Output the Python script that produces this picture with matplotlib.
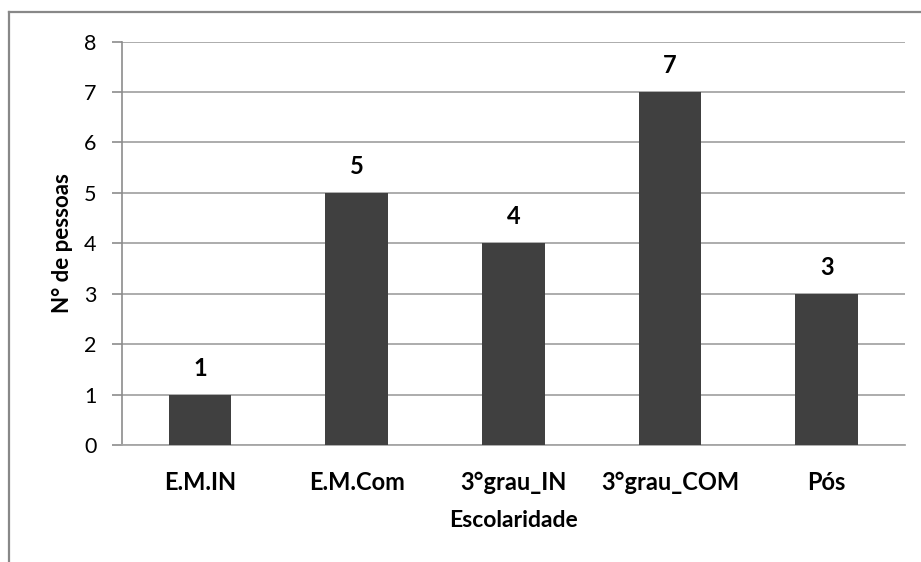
import matplotlib
matplotlib.use("Agg")
import matplotlib.pyplot as plt
from matplotlib.lines import Line2D

categories = ["E.M.IN", "E.M.Com", "3°grau_IN", "3°grau_COM", "Pós"]
values = [1, 5, 4, 7, 3]
y_ticks = [0, 1, 2, 3, 4, 5, 6, 7, 8]

plt.rcParams["font.family"] = ["Lato", "DejaVu Sans"]

W, H = 921, 562
fig = plt.figure(figsize=(W / 100, H / 100), dpi=100)
ax = fig.add_axes([121.7 / W, 1 - 445 / H, (905 - 121.7) / W, (445 - 41.5) / H])

x = list(range(len(categories)))
ax.bar(x, values, width=0.40, color="#404040", zorder=3)

ax.set_xlim(-0.5, len(categories) - 0.5)
ax.set_ylim(0, 8)
ax.set_yticks(y_ticks)
ax.set_xticks(x)
ax.set_xticklabels(categories, fontsize=17, fontweight="bold", color="#000000")
ax.tick_params(axis="x", length=0, pad=18.5)
ax.tick_params(axis="y", length=7, width=1.2, color="#8c8c8c", labelsize=15.5,
               pad=11, labelcolor="#000000")

ax.grid(axis="y", color="#a6a6a6", linewidth=1.3, zorder=0)
for side in ("top", "right"):
    ax.spines[side].set_visible(False)
ax.spines["left"].set_color("#8c8c8c")
ax.spines["left"].set_linewidth(1.2)
ax.spines["bottom"].set_color("#a6a6a6")
ax.spines["bottom"].set_linewidth(1.3)

for xi, v in zip(x, values):
    ax.annotate(str(v), (xi, v), xytext=(0, 19), textcoords="offset pixels",
                ha="center", va="baseline", fontsize=17, fontweight="bold")

ax.set_xlabel("Escolaridade", fontsize=16.5, fontweight="bold", labelpad=12)
ax.set_ylabel("N° de pessoas", fontsize=16, fontweight="bold", labelpad=8)

# outer chart frame (top and left edges)
fig.add_artist(Line2D([9 / W, 1.0], [1 - 11.5 / H, 1 - 11.5 / H], color="#888888",
                      linewidth=1.6, transform=fig.transFigure))
fig.add_artist(Line2D([9 / W, 9 / W], [0.0, 1 - 11.5 / H], color="#888888",
                      linewidth=1.6, transform=fig.transFigure))

fig.savefig("out.png", dpi=100)
